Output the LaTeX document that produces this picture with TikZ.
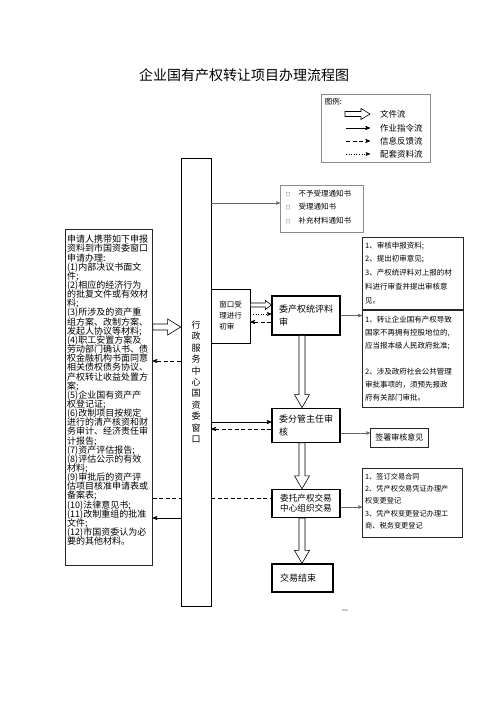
\documentclass[tikz,border=0pt]{standalone}
\usepackage{fontspec}
\setmainfont{Noto Sans CJK SC}
\usepackage{xcolor}
\colorlet{colorBox}{black}
\colorlet{colorLink}{black!60}
\colorlet{colorNote}{black!45}
\usetikzlibrary{arrows, positioning}
\newcommand{\fsz}[2]{\fontsize{#1}{#2}\selectfont\lineskiplimit=-20pt}
\newcommand{\chk}{{\fsz{5}{5}□}\hspace{8pt}}
% open arrow (file flow), down from node #1 to node #2
\newcommand{\fatdown}[2]{%
  \coordinate (fatTop) at ([xshift=-4]#1.south);
  \coordinate (fatTip) at (fatTop |- #2.north);
  \draw[fileflow] ([xshift=-3]fatTop) -- ([xshift=-3,yshift=13]fatTip) -- ([xshift=-7.5,yshift=13]fatTip) -- (fatTip)
    -- ([xshift=7.5,yshift=13]fatTip) -- ([xshift=3,yshift=13]fatTip) -- ([xshift=3]fatTop) -- cycle;}
% open arrow to the right: from, to, half shaft, half head, head length
\newcommand{\fatright}[5]{%
  \draw[fileflow] ([yshift=#3]#1) -- ([xshift=-#5,yshift=#3]#2) -- ([xshift=-#5,yshift=#4]#2) -- (#2)
    -- ([xshift=-#5,yshift=-#4]#2) -- ([xshift=-#5,yshift=-#3]#2) -- ([yshift=-#3]#1) -- cycle;}
\tikzset{
  mainbox/.style={draw=colorBox, line width=1.2pt, align=left, font=\fsz{9}{13}, inner sep=2pt},
  winbox/.style={draw=colorBox, line width=0.7pt, align=left, font=\fsz{7.5}{11}, inner sep=1pt},
  hubbox/.style={draw=colorBox, line width=0.7pt, fill=white, align=center, font=\fsz{9}{11.4}, inner sep=1pt},
  infobox/.style={draw=colorBox!85, line width=0.7pt, inner sep=0pt},
  notebox/.style={draw=colorNote, line width=0.8pt, inner sep=0pt},
  infotext/.style={align=left, inner sep=0pt, anchor=north west},
  lgtext/.style={font=\fsz{8.5}{10}, inner sep=0pt, anchor=west},
  order/.style={->, line width=0.7pt},
  feed/.style={->, line width=0.7pt, dash pattern=on 4pt off 2.5pt},
  supply/.style={->, line width=0.6pt, dotted},
  link/.style={->, line width=0.5pt, colorLink},
  fileflow/.style={draw, line width=0.6pt, fill=white, line join=miter},
}

\begin{document}
\begin{tikzpicture}[x=1pt, y=-1pt, >=stealth']
\useasboundingbox (0,0) rectangle (500,708);
\node[font=\fsz{14}{16}] (title) at (244,75) {企业国有产权转让项目办理流程图};

% legend
\node[draw=colorNote, line width=0.8pt, minimum width=109, minimum height=68, inner sep=0pt] (legend) at (375.5,128) {};
\node[font=\fsz{7.5}{9}, inner sep=0pt, anchor=north west] (lgtitle) at ([xshift=4,yshift=-4]legend.north west) {图例:};
\node[lgtext] (lg1) at (380,114) {文件流};
\node[lgtext] (lg2) at (380,128) {作业指令流};
\node[lgtext] (lg3) at (380,141) {信息反馈流};
\node[lgtext] (lg4) at (380,154) {配套资料流};
\coordinate (lgA) at ([xshift=-35]lg1.west);
\coordinate (lgB) at ([xshift=-10]lg1.west);
\fatright{lgA}{lgB}{2.5}{5.5}{9}
\draw[order] ([xshift=-34]lg2.west) -- ([xshift=-10]lg2.west);
\draw[feed] ([xshift=-34]lg3.west) -- ([xshift=-10]lg3.west);
\draw[supply] ([xshift=-34]lg4.west) -- ([xshift=-10]lg4.west);

% application materials
\node[infobox, minimum width=87, minimum height=336, anchor=north west] (apply) at (65,229) {};
\node[infotext, font=\fsz{9}{9.15}] (applytext) at ([xshift=2,yshift=-6]apply.north west) {申请人携带如下申报\\资料到市国资委窗口\\申请办理:\\(1)内部决议书面文\\件;\\(2)相应的经济行为\\的批复文件或有效材\\料;\\(3)所涉及的资产重\\组方案、改制方案、\\发起人协议等材料;\\(4)职工安置方案及\\劳动部门确认书、债\\权金融机构书面同意\\相关债权债务协议、\\产权转让收益处置方\\案;\\(5)企业国有资产产\\权登记证;\\(6)改制项目按规定\\进行的清产核资和财\\务审计、经济责任审\\计报告;\\(7)资产评估报告;\\(8)评估公示的有效\\材料;\\(9)审批后的资产评\\估项目核准申请表或\\备案表;\\(10)法律意见书;\\(11)改制重组的批准\\文件;\\(12)市国资委认为必\\要的其他材料。};

% service window
\node[hubbox, minimum width=30, minimum height=448] (hub) at (196,382) {行\\政\\服\\务\\中\\心\\国\\资\\委\\窗\\口};
\node[winbox, minimum width=39, minimum height=54] (window) at (230.5,316) {窗口受\\理进行\\初审};

% notices
\node[notebox, minimum width=83, minimum height=47, anchor=north west] (notice) at (280,185) {};
\node[infotext, font=\fsz{7.5}{13.5}] (noticetext) at ([xshift=5.5,yshift=-4.5]notice.north west) {\chk 不予受理通知书\\\chk 受理通知书\\\chk 补充材料通知书};

% main steps
\node[mainbox, minimum width=68, minimum height=39] (audit) at (306,315.5) {委产权统评料\\审};
\node[mainbox, minimum width=68, minimum height=34, below=72pt of audit] (sign) {委分管主任审\\核};
\node[mainbox, minimum width=68, minimum height=28, below=46pt of sign, align=center, font=\fsz{8.6}{10.5}] (trade) {委托产权交易\\中心组织交易};
\node[mainbox, minimum width=61, minimum height=28, text width=45] (finish) at (302.5,578) {交易结束};

% review notes
\node[infobox, minimum width=101, minimum height=72, anchor=north west] (revA) at (362,237) {};
\node[infobox, minimum width=101, minimum height=97, below=0pt of revA] (revB) {};
\node[infotext, font=\fsz{7.5}{13.8}] (revAtext) at ([xshift=3,yshift=-4.5]revA.north west) {1、审核申报资料;\\2、提出初审意见;\\3、产权统评料对上报的材\\料进行审查并提出审核意\\见。};
\node[infotext, font=\fsz{7.5}{13}] (revBtext) at ([xshift=3,yshift=-6.5]revB.north west) {1、转让企业国有产权导致\\国家不再拥有控股地位的,\\应当报本级人民政府批准;\\[13pt]2、涉及政府社会公共管理\\审批事项的，须预先报政\\府有关部门审批。};
\node[infobox, minimum width=58, minimum height=19, font=\fsz{8}{9}, anchor=north west] (opinion) at (370,428) {签署审核意见};
\node[infobox, minimum width=100, minimum height=69, anchor=north west] (info) at (362,468) {};
\node[infotext, font=\fsz{7.2}{12.3}] (infotext) at ([xshift=3,yshift=-5]info.north west) {1、签订交易合同\\2、凭产权交易凭证办理产\\权变更登记\\3、凭产权变更登记办理工\\商、税务变更登记};
\node[font=\fsz{7}{8}, inner sep=0pt] (pagemark) at (345,611) {—};

% connectors
\draw[link] (hub.east |- 0,203) -- (notice.west |- 0,203);
\coordinate (fileOut) at (apply.east |- 0,327);
\coordinate (fileIn) at (hub.west |- 0,327);
\fatright{fileOut}{fileIn}{3}{8}{13}
\draw[feed] (hub.west |- 0,361) -- (apply.east |- 0,361);
\draw[feed, -] (apply.east |- 0,498) -- (hub.west |- 0,498);
\draw[feed, -] (hub.east |- 0,498) -- (trade.west |- 0,498);
\draw[order] (hub.west |- 0,518) -- (apply.east |- 0,518);
\coordinate (winOut) at (window.east |- 0,305);
\coordinate (winIn) at (audit.west |- 0,305);
\fatright{winOut}{winIn}{2}{4.5}{6}
\draw[supply] (window.east |- 0,314) -- (audit.west |- 0,314);
\draw[feed] (audit.west |- 0,322) -- (window.east |- 0,322);
\draw[link] (audit.east) -- (audit.east -| revB.west);
\draw[order] (hub.east |- 0,422) -- (sign.west |- 0,422);
\draw[feed] (sign.west |- 0,429) -- (hub.east |- 0,429);
\draw[link] (sign.east |- 0,433) -- (opinion.west |- 0,433);
\draw[link] (trade.east |- 0,507) -- (info.west |- 0,507);
\fatdown{audit}{sign}
\fatdown{sign}{trade}
\fatdown{trade}{finish}
\end{tikzpicture}
\end{document}
